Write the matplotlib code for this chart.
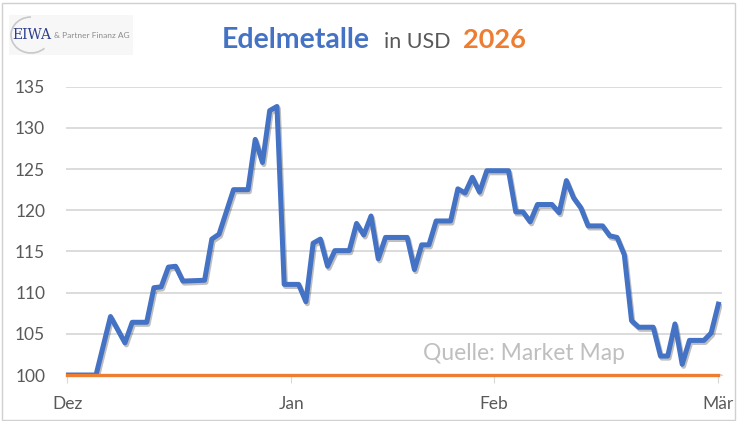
import matplotlib
matplotlib.use('Agg')
import matplotlib.pyplot as plt
import matplotlib.patheffects as pe
from matplotlib.patches import Rectangle, Arc

# day index counted from 1 Dec (calendar days), index value in USD terms
days = [0, 4, 6, 8, 9, 11, 12, 13, 14, 15, 16, 19, 20, 21, 23, 25, 26, 27, 28, 29,
        30, 32, 33, 34, 35, 36, 37, 39, 40, 41, 42, 43, 44, 47, 48, 49, 50, 51, 53,
        54, 55, 56, 57, 58, 61, 62, 63, 64, 65, 67, 68, 69, 70, 71, 72, 74, 75, 76,
        77, 78, 79, 81, 82, 83, 84, 85, 86, 88, 89, 90]
values = [100.0, 100.0, 107.1, 103.9, 106.4, 106.4, 110.6, 110.7, 113.1, 113.2,
          111.4, 111.5, 116.5, 117.1, 122.5, 122.5, 128.6, 125.8, 132.1, 132.6,
          111.0, 111.0, 108.9, 116.0, 116.5, 113.2, 115.1, 115.1, 118.4, 117.0,
          119.3, 114.1, 116.7, 116.7, 112.8, 115.8, 115.8, 118.7, 118.7,
          122.6, 122.1, 124.0, 122.2, 124.8, 124.8, 119.8, 119.8, 118.6, 120.7,
          120.7, 119.7, 123.6, 121.5, 120.3, 118.1, 118.1, 116.9, 116.7,
          114.6, 106.6, 105.8, 105.8, 102.3, 102.3, 106.2, 101.3, 104.2, 104.2,
          105.1, 108.6]

# baseline series (start value = 100)
base_days = [0, 90]
base_values = [100, 100]

month_pos = [0, 31, 59, 90]
month_labels = ['Dez', 'Jan', 'Feb', 'Mär']
y_ticks = [100, 105, 110, 115, 120, 125, 130, 135]

BLUE = '#4472C4'
ORANGE = '#ED7D31'
GREY = '#595959'

plt.rcParams['font.family'] = ['Lato', 'DejaVu Sans']

fig = plt.figure(figsize=(7.38, 4.21), dpi=100)
fig.patch.set_facecolor('white')

ax = fig.add_axes([66 / 738, 1 - 375 / 421, 656 / 738, (375 - 86.7) / 421])

ax.plot(days, values, color=BLUE, lw=3.6, solid_joinstyle='round', zorder=3,
        path_effects=[pe.SimpleLineShadow(offset=(1, -1.5), shadow_color='black', alpha=0.25),
                      pe.Normal()])
ax.plot(base_days, base_values, color=ORANGE, lw=2.4, zorder=4, clip_on=False)

ax.set_xlim(-0.15, 90.5)
ax.set_ylim(100, 135)
ax.set_yticks(y_ticks)
ax.set_xticks(month_pos)
ax.set_xticklabels(month_labels)
ax.grid(axis='y', color='#D9D9D9', lw=1.3)
ax.set_axisbelow(True)
for s in ['top', 'right', 'left']:
    ax.spines[s].set_visible(False)
ax.spines['bottom'].set_color('#D9D9D9')
ax.tick_params(axis='y', length=0, labelsize=12.5, labelcolor=GREY, pad=15)
ax.tick_params(axis='x', length=6, color='#D9D9D9', labelsize=12.5, labelcolor=GREY, pad=9)
for lbl in ax.get_yticklabels():
    lbl.set_horizontalalignment('right')

ax.text(0.852, 0.073, 'Quelle: Market Map', transform=ax.transAxes, ha='right', va='center',
        fontsize=16.5, color='#BFBFBF')

# title built from three parts
y_title = 1 - 48 / 421
fig.text(222 / 738, y_title, 'Edelmetalle', color=BLUE, fontsize=20.5, fontweight='bold', va='baseline')
fig.text(384 / 738, y_title, 'in USD', color=GREY, fontsize=15.5, va='baseline')
fig.text(463 / 738, y_title, '2026', color=ORANGE, fontsize=19.5, fontweight='bold', va='baseline')

# logo
fig.patches.append(Rectangle((9 / 738, 1 - 55 / 421), 124 / 738, 40 / 421, transform=fig.transFigure,
                             facecolor='#F7F7F7', edgecolor='none', zorder=1))
fig.patches.append(Arc((31 / 738, 1 - 35 / 421), 40 / 738, 36 / 421, theta1=90, theta2=300,
                       transform=fig.transFigure, color='#C8C8C8', lw=1.2, zorder=2))
fig.text(12 / 738, 1 - 35 / 421, 'EIWA', family='DejaVu Serif', fontsize=10, color='#2E3E8C',
         va='center', zorder=3)
fig.text(54 / 738, 1 - 35 / 421, '& Partner Finanz AG', fontsize=6, color='#8C8C8C', va='center', zorder=3)

# chart border
fig.patches.append(Rectangle((2 / 738, 0.003), 733 / 738, 0.99, transform=fig.transFigure,
                             facecolor='none', edgecolor='#D0D0D0', lw=1.0))

fig.savefig('out.png', dpi=100)
